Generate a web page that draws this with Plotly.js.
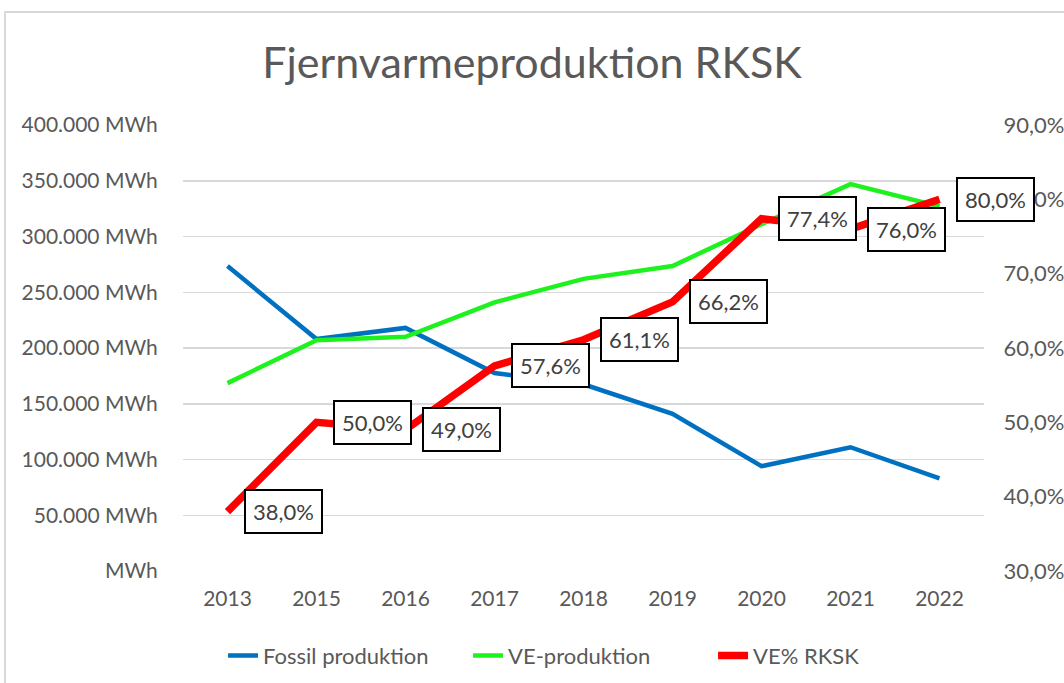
<!DOCTYPE html>
<html>
<head>
<meta charset="utf-8">
<script src="https://cdn.plot.ly/plotly-3.0.1.min.js"></script>
<style>html,body{margin:0;padding:0;background:#fff;}#chart{width:1064px;height:683px;}</style>
</head>
<body>
<div id="chart"></div>
<script>
const years = ['2013','2015','2016','2017','2018','2019','2020','2021','2022'];
const fossil = [273500, 208000, 218000, 177500, 167500, 141000, 94000, 111000, 83000];
const ve = [168500, 207000, 210000, 241000, 262000, 273500, 311000, 347000, 327000];
const vePct = [38.0, 50.0, 49.0, 57.6, 61.1, 66.2, 77.4, 76.0, 80.0];
const leftTickVals = [0, 50000, 100000, 150000, 200000, 250000, 300000, 350000, 400000];
const leftTickText = ['MWh', '50.000 MWh', '100.000 MWh', '150.000 MWh', '200.000 MWh', '250.000 MWh', '300.000 MWh', '350.000 MWh', '400.000 MWh'];
const rightTickVals = [30, 40, 50, 60, 70, 80, 90];
const rightTickText = ['30,0%', '40,0%', '50,0%', '60,0%', '70,0%', '80,0%', '90,0%'];

const FONT = 'Lato, "Open Sans", sans-serif';
const GREY = '#595959';

const traces = [
  {x: years, y: fossil, name: 'Fossil produktion', type: 'scatter', mode: 'lines',
   line: {color: '#0070C0', width: 4.5}, xaxis: 'x', yaxis: 'y'},
  {x: years, y: ve, name: 'VE-produktion', type: 'scatter', mode: 'lines',
   line: {color: '#1EF21E', width: 4.5}, xaxis: 'x', yaxis: 'y'},
  {x: years, y: vePct, name: 'VE% RKSK', type: 'scatter', mode: 'lines',
   line: {color: '#FF0000', width: 7.5}, xaxis: 'x', yaxis: 'y2'}
];

const annotations = years.map((yr, i) => ({
  x: i, y: vePct[i], xref: 'x', yref: 'y2',
  text: vePct[i].toFixed(1).replace('.', ',') + '%',
  showarrow: false, xanchor: 'left', yanchor: 'middle', xshift: 16,
  bgcolor: '#ffffff', bordercolor: '#000000', borderwidth: 2, borderpad: 7,
  font: {family: FONT, size: 22, color: '#404040'}
}));

const layout = {
  width: 1064, height: 683,
  margin: {l: 183, r: 80, t: 125, b: 112, autoexpand: false},
  paper_bgcolor: '#ffffff', plot_bgcolor: '#ffffff',
  showlegend: true,
  hovermode: false,
  title: {text: 'Fjernvarmeproduktion RKSK', x: 0.5, xanchor: 'center', y: 0.908, yanchor: 'middle',
          font: {family: FONT, size: 43, color: GREY}},
  xaxis: {type: 'category', categoryorder: 'array', categoryarray: years, range: [-0.5, 8.5],
          showgrid: false, showline: false, zeroline: false,
          ticks: 'outside', ticklen: 9, tickcolor: 'rgba(0,0,0,0)',
          tickfont: {family: FONT, size: 21, color: GREY}},
  yaxis: {range: [0, 400000], tickvals: leftTickVals, ticktext: leftTickText,
          showgrid: true, gridcolor: '#D9D9D9', gridwidth: 1.5, zeroline: false, showline: false,
          tickfont: {family: FONT, size: 21, color: GREY}, ticks: 'outside', ticklen: 20, tickcolor: 'rgba(0,0,0,0)'},
  yaxis2: {range: [30, 90], tickvals: rightTickVals, ticktext: rightTickText, overlaying: 'y', side: 'right',
           showgrid: false, zeroline: false, showline: false,
           tickfont: {family: FONT, size: 22, color: GREY}, ticks: 'outside', ticklen: 14, tickcolor: 'rgba(0,0,0,0)'},
  legend: {orientation: 'h', x: 0.05, xanchor: 'left', y: -0.19, yanchor: 'middle',
           font: {family: FONT, size: 22, color: GREY}, entrywidth: 200, entrywidthmode: 'pixels'},
  annotations: annotations,
  shapes: [{type: 'rect', xref: 'paper', yref: 'paper', x0: -0.2222, x1: 1.3, y0: -0.4, y1: 1.2534,
            line: {color: '#D9D9D9', width: 2}, fillcolor: 'rgba(0,0,0,0)', layer: 'below'}]
};

Plotly.newPlot('chart', traces, layout, {displayModeBar: false, staticPlot: true});
</script>
</body>
</html>
